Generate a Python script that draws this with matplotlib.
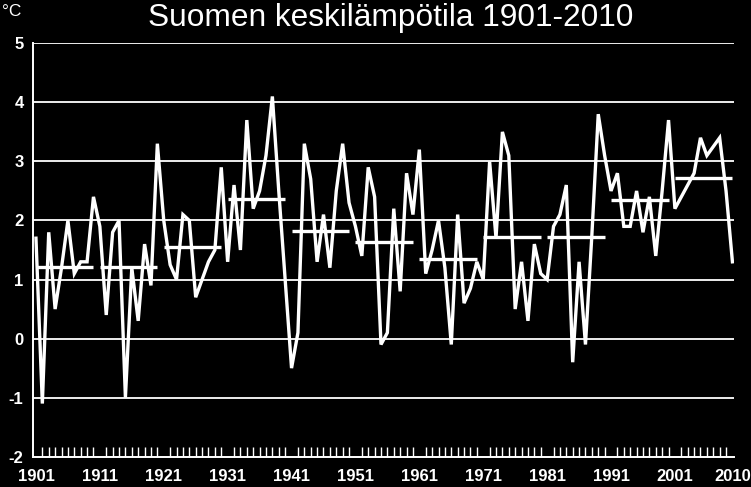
import matplotlib
matplotlib.use("Agg")
import matplotlib.pyplot as plt
import numpy as np

plt.rcParams['font.family'] = ['Liberation Sans', 'DejaVu Sans']
plt.rcParams['axes.unicode_minus'] = False

years = list(range(1901, 2011))
temps = [1.7, -1.1, 1.8, 0.5, 1.2, 2.0, 1.1, 1.3, 1.3, 2.4,
         1.9, 0.4, 1.8, 2.0, -1.0, 1.2, 0.3, 1.6, 0.9, 3.3,
         2.0, 1.25, 1.0, 2.1, 2.0, 0.7, 1.0, 1.3, 1.5, 2.9,
         1.3, 2.6, 1.5, 3.7, 2.2, 2.5, 3.1, 4.1, 2.5, 1.0,
         -0.5, 0.1, 3.3, 2.7, 1.3, 2.1, 1.2, 2.5, 3.3, 2.3,
         1.9, 1.4, 2.9, 2.4, -0.1, 0.1, 2.2, 0.8, 2.8, 2.1,
         3.2, 1.1, 1.5, 2.0, 1.2, -0.1, 2.1, 0.6, 0.85, 1.3,
         1.0, 3.0, 1.7, 3.5, 3.1, 0.5, 1.3, 0.3, 1.6, 1.1,
         1.0, 1.9, 2.1, 2.6, -0.4, 1.3, -0.1, 1.75, 3.8, 3.1,
         2.5, 2.8, 1.9, 1.9, 2.5, 1.8, 2.4, 1.4, 2.5, 3.7,
         2.2, 2.4, 2.6, 2.8, 3.4, 3.1, 3.25, 3.4, 2.5, 1.3]

decade_start = [1901, 1911, 1921, 1931, 1941, 1951, 1961, 1971, 1981, 1991, 2001]
decade_end = [1910, 1920, 1930, 1940, 1950, 1960, 1970, 1980, 1990, 2000, 2010]
decade_mean = [1.22, 1.22, 1.55, 2.37, 1.83, 1.63, 1.35, 1.72, 1.72, 2.34, 2.72]

xtick_years = [1901, 1911, 1921, 1931, 1941, 1951, 1961, 1971, 1981, 1991, 2001, 2010]
yticks = [-2, -1, 0, 1, 2, 3, 4, 5]

fig = plt.figure(figsize=(7.51, 4.87), dpi=100, facecolor='black')
ax = fig.add_axes([0.0443, 0.0622, 0.9331, 0.8489], facecolor='black')

# horizontal grid
for v in yticks[1:]:
    ax.axhline(v, color='white', lw=1.3, zorder=1)

ax.plot(years, temps, color='white', lw=2.4, zorder=3, solid_joinstyle='miter')
ax.hlines(decade_mean, decade_start, decade_end, color='white', lw=2.4, zorder=3)

ax.set_xlim(1900.58, 2010.25)
ax.set_ylim(-2, 5)

for s in ['top', 'right']:
    ax.spines[s].set_visible(False)
for s in ['left', 'bottom']:
    ax.spines[s].set_color('white')
    ax.spines[s].set_linewidth(1.4)

ax.set_xticks(xtick_years)
ax.set_xticklabels([str(y) for y in xtick_years], fontweight='bold')
ax.set_xticks(years, minor=True)
ax.tick_params(axis='x', which='major', length=0, pad=9, colors='white', labelsize=12)
ax.tick_params(axis='x', which='minor', direction='in', length=7, width=1, color='white')
ax.set_yticks(yticks)
ax.set_yticklabels([str(v) for v in yticks], fontweight='bold')
ax.tick_params(axis='y', length=0, pad=7, colors='white', labelsize=12)

fig.text(0.52, 0.963, 'Suomen keskilämpötila 1901-2010', color='white',
         fontsize=22.8, ha='center', va='center')
fig.text(0.002, 0.976, '°C', color='white', fontsize=12.5, ha='left', va='center')

fig.savefig('out.png', dpi=100, facecolor='black')
